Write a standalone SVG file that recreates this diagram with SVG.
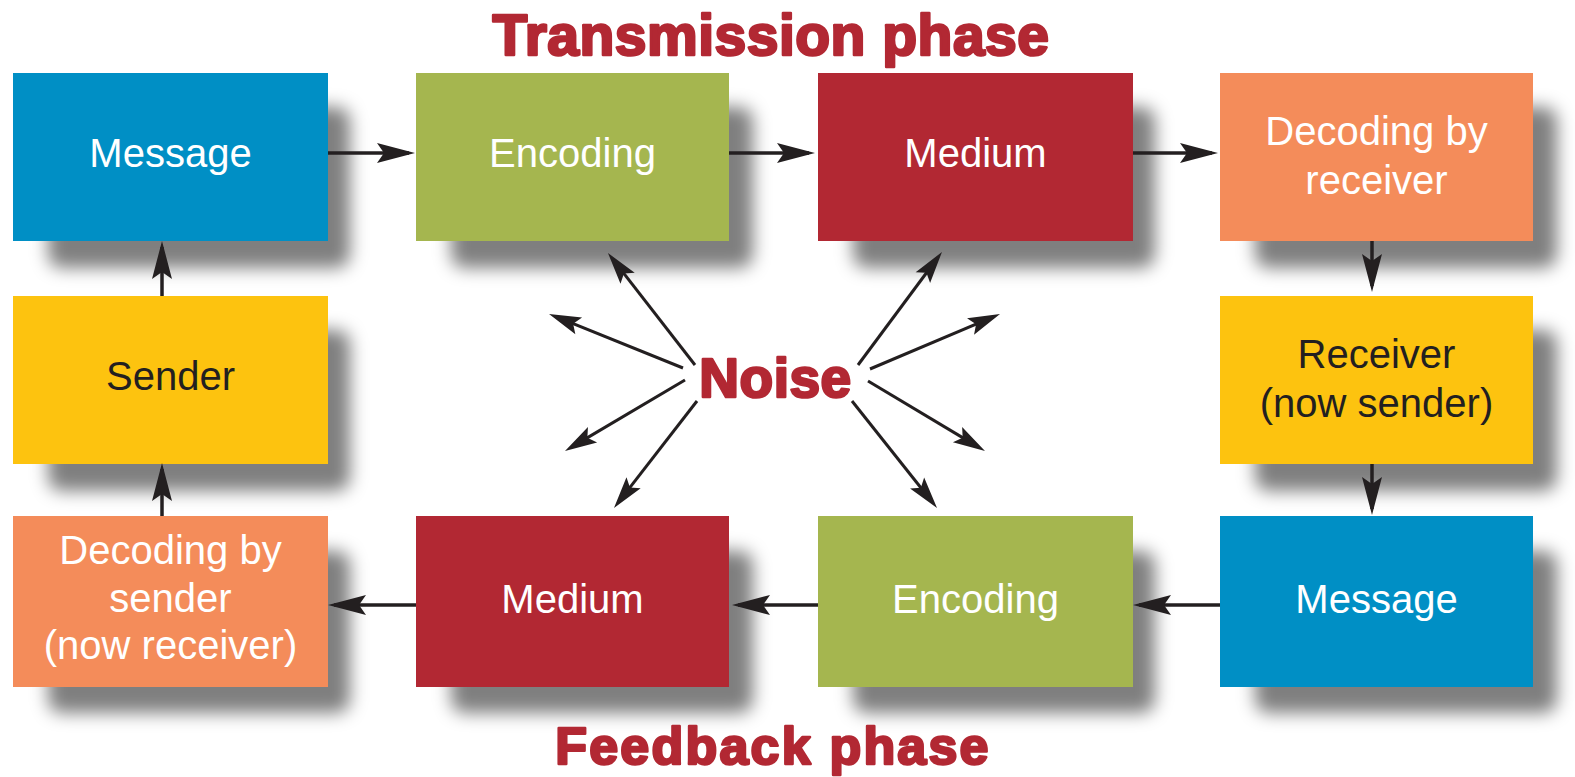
<svg xmlns="http://www.w3.org/2000/svg" width="1575" height="777" viewBox="0 0 1575 777">
  <defs>
    <style>
      .shadow { fill: #000; fill-opacity: 0.5; filter: url(#blur); }
      .lbl { font-family: "Liberation Sans", Arial, sans-serif; font-size: 40px; text-anchor: middle; fill: #ffffff; }
      .dark { fill: #231F20; }
      .title { font-family: "Liberation Sans", Arial, sans-serif; font-weight: bold; text-anchor: middle; fill: #B22833; stroke: #B22833; stroke-width: 2.6; stroke-linejoin: round; }
      .conn { stroke: #231F20; stroke-width: 3.5; fill: none; marker-end: url(#ah); }
      .noise { stroke: #231F20; stroke-width: 3; fill: none; marker-end: url(#ahn); }
      .blue { fill: #008FC5; }
      .green { fill: #A5B64F; }
      .red { fill: #B22833; }
      .orange { fill: #F48C5A; }
      .yellow { fill: #FDC30F; }
    </style>
    <filter id="blur" x="-20%" y="-30%" width="140%" height="160%">
      <feGaussianBlur stdDeviation="8.5"/>
    </filter>
    <marker id="ah" markerUnits="userSpaceOnUse" viewBox="-40 -12 52 24" markerWidth="52" markerHeight="24" refX="0" refY="0" orient="auto">
      <path d="M6,0 L-32,-10 L-25,0 L-32,10 Z" fill="#231F20"/>
    </marker>
    <marker id="ahn" markerUnits="userSpaceOnUse" viewBox="-40 -12 52 24" markerWidth="52" markerHeight="24" refX="0" refY="0" orient="auto">
      <path d="M10,0 L-22,-9 L-16,0 L-22,9 Z" fill="#231F20"/>
    </marker>
  </defs>

  <rect x="0" y="0" width="1575" height="777" fill="#ffffff"/>

  <!-- Top row -->
  <g id="message-top">
    <rect class="shadow" x="48" y="107" width="302" height="161" rx="14"/>
    <rect class="blue" x="13" y="73" width="315" height="168"/>
    <text class="lbl" x="170.5" y="167">Message</text>
  </g>
  <g id="encoding-top">
    <rect class="shadow" x="451" y="107" width="302" height="161" rx="14"/>
    <rect class="green" x="416" y="73" width="313" height="168"/>
    <text class="lbl" x="572.5" y="167">Encoding</text>
  </g>
  <g id="medium-top">
    <rect class="shadow" x="853" y="107" width="302" height="161" rx="14"/>
    <rect class="red" x="818" y="73" width="315" height="168"/>
    <text class="lbl" x="975.5" y="167">Medium</text>
  </g>
  <g id="decoding-receiver">
    <rect class="shadow" x="1255" y="107" width="302" height="161" rx="14"/>
    <rect class="orange" x="1220" y="73" width="313" height="168"/>
    <text class="lbl" x="1376.5" y="145">Decoding by</text>
    <text class="lbl" x="1376.5" y="194">receiver</text>
  </g>

  <!-- Middle row -->
  <g id="sender">
    <rect class="shadow" x="48" y="330" width="302" height="161" rx="14"/>
    <rect class="yellow" x="13" y="296" width="315" height="168"/>
    <text class="lbl dark" x="170.5" y="390">Sender</text>
  </g>
  <g id="receiver">
    <rect class="shadow" x="1255" y="330" width="302" height="161" rx="14"/>
    <rect class="yellow" x="1220" y="296" width="313" height="168"/>
    <text class="lbl dark" x="1376.5" y="368">Receiver</text>
    <text class="lbl dark" x="1376.5" y="417">(now sender)</text>
  </g>

  <!-- Bottom row -->
  <g id="decoding-sender">
    <rect class="shadow" x="48" y="551" width="302" height="162" rx="14"/>
    <rect class="orange" x="13" y="516" width="315" height="171"/>
    <text class="lbl" x="170.5" y="564">Decoding by</text>
    <text class="lbl" x="170.5" y="612">sender</text>
    <text class="lbl" x="170.5" y="659">(now receiver)</text>
  </g>
  <g id="medium-bottom">
    <rect class="shadow" x="451" y="551" width="302" height="162" rx="14"/>
    <rect class="red" x="416" y="516" width="313" height="171"/>
    <text class="lbl" x="572.5" y="613">Medium</text>
  </g>
  <g id="encoding-bottom">
    <rect class="shadow" x="853" y="551" width="302" height="162" rx="14"/>
    <rect class="green" x="818" y="516" width="315" height="171"/>
    <text class="lbl" x="975.5" y="613">Encoding</text>
  </g>
  <g id="message-bottom">
    <rect class="shadow" x="1255" y="551" width="302" height="162" rx="14"/>
    <rect class="blue" x="1220" y="516" width="313" height="171"/>
    <text class="lbl" x="1376.5" y="613">Message</text>
  </g>

  <!-- Titles -->
  <g id="titles">
    <text class="title" x="771" y="55" font-size="57" letter-spacing="0.5">Transmission phase</text>
    <text class="title" x="773" y="764" font-size="52" letter-spacing="2.2">Feedback phase</text>
  </g>

  <!-- Noise -->
  <g id="noise">
    <text class="title" x="775.5" y="397" font-size="55" letter-spacing="0.5">Noise</text>
  </g>

  <!-- Connectors -->
  <g id="connectors">
    <path class="conn" d="M328,153 L409,153"/>
    <path class="conn" d="M729,153 L809,153"/>
    <path class="conn" d="M1133,153 L1212,153"/>
    <path class="conn" d="M1372,241 L1372,286"/>
    <path class="conn" d="M1372,464 L1372,509"/>
    <path class="conn" d="M1220,605 L1139,605"/>
    <path class="conn" d="M818,605 L738,605"/>
    <path class="conn" d="M416,605 L334,605"/>
    <path class="conn" d="M162,516 L162,469"/>
    <path class="conn" d="M162,296 L162,247"/>

    <path class="noise" d="M695,365 L614.1,260.9"/>
    <path class="noise" d="M683,368 L558.3,317.7"/>
    <path class="noise" d="M685,380 L573.6,445.9"/>
    <path class="noise" d="M697,401 L620.1,500.1"/>
    <path class="noise" d="M858,365 L936,260"/>
    <path class="noise" d="M870,369 L990.8,317.9"/>
    <path class="noise" d="M868,381 L976.4,445.9"/>
    <path class="noise" d="M852,401 L930.8,500.2"/>
  </g>
</svg>
